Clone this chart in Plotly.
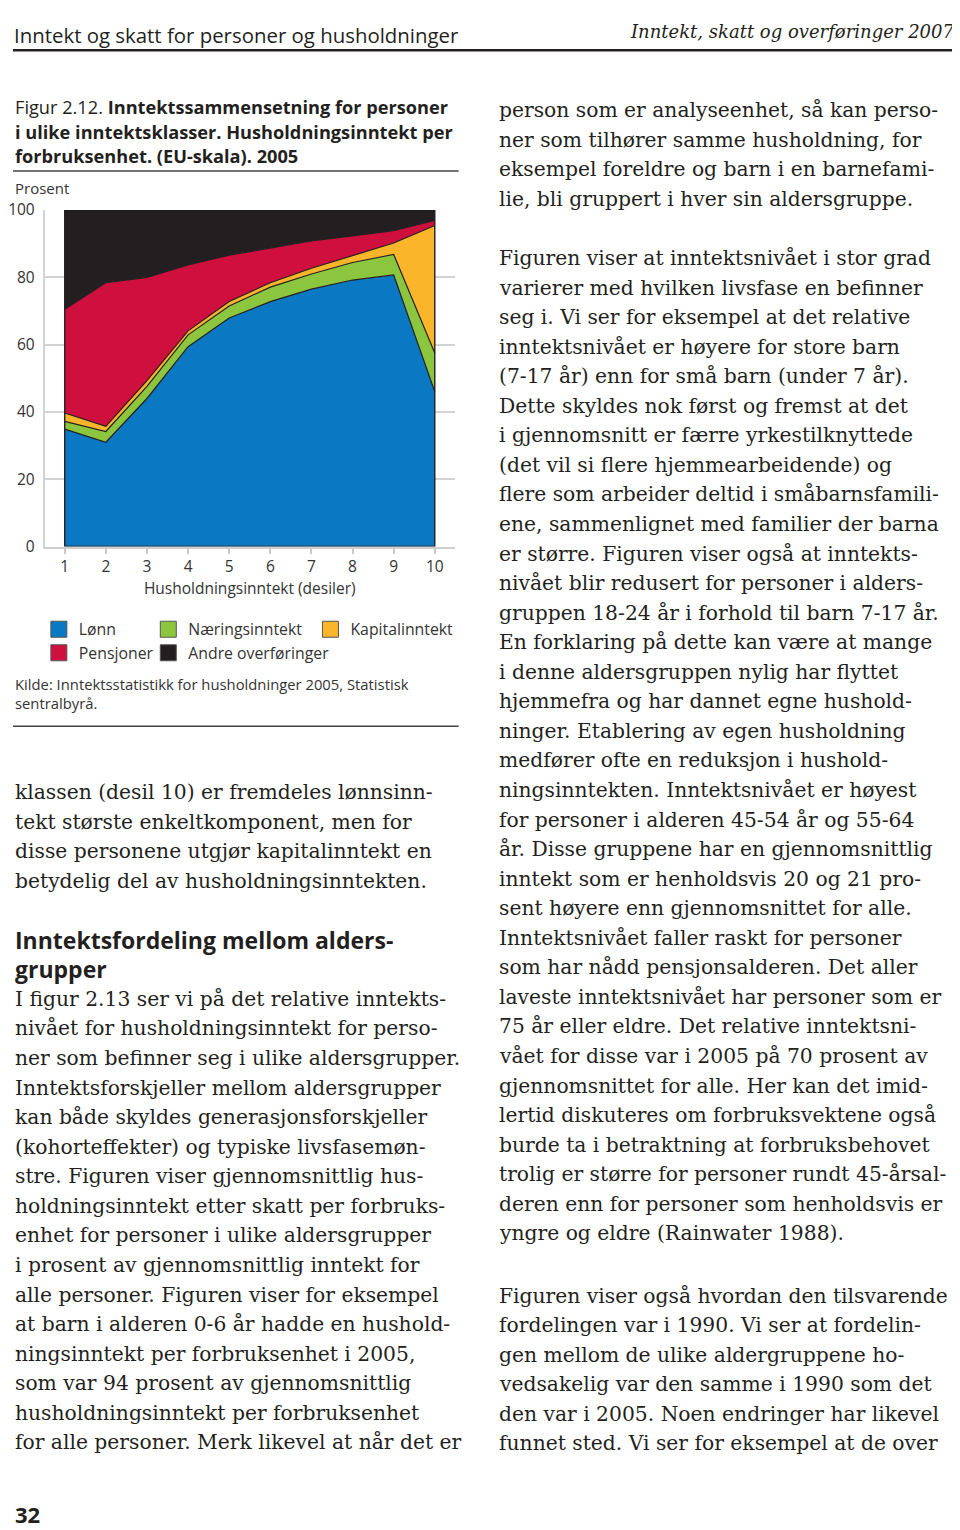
import plotly.graph_objects as go

# ---------------- data ----------------
deciles = [1, 2, 3, 4, 5, 6, 7, 8, 9, 10]
lonn = [34.9, 31.0, 44.0, 59.4, 67.9, 72.8, 76.5, 79.2, 80.7, 46.0]
naering = [2.3, 3.2, 3.6, 3.5, 3.6, 4.3, 4.5, 5.2, 6.1, 11.5]
kapital = [2.5, 1.5, 1.7, 1.2, 1.3, 1.3, 1.7, 2.0, 3.4, 37.9]
pensjoner = [30.8, 42.7, 30.7, 19.6, 13.8, 10.4, 8.1, 5.9, 3.7, 1.5]
andre = [29.5, 21.6, 20.0, 16.3, 13.4, 11.2, 9.2, 7.7, 6.1, 3.1]
series_names = ["Lønn", "Næringsinntekt", "Kapitalinntekt", "Pensjoner", "Andre overføringer"]
y_ticks = [0, 20, 40, 60, 80, 100]

# ---------------- style ----------------
# mapping from target-picture pixels to figure pixels (page offset/scale)
OFFX, OFFY, SY = 8, 19.7, 0.987
W, H = 960, 1530
colors = ["#0a78c2", "#8cc63f", "#fbb52a", "#cf0f3e", "#231f20"]
legend_ids = ["legend", "legend2", "legend3", "legend", "legend2"]
edge = "#231f20"
ink = "#231f20"
grid = "#d3d3d3"
SANS = "Open Sans"
SERIF = "DejaVu Serif"
BODY = 20.3


def px(x):
    return max(x - OFFX, 0) / W


def py(y):
    return 1 - ((y - OFFY) / SY) / H


fig = go.Figure()
series = [lonn, naering, kapital, pensjoner, andre]
for name, vals, col in zip(series_names, series, colors):
    fig.add_trace(go.Scatter(
        x=deciles, y=vals, name=name, stackgroup="one", mode="lines",
        line=dict(color=edge, width=1.2), fillcolor=col, showlegend=False,
        hoverinfo="x+y+name"))

# outline of the whole stacked area (left edge, baseline, right edge)
totals = [sum(v) for v in zip(*series)]
fig.add_trace(go.Scatter(
    x=[deciles[0], deciles[0], deciles[-1], deciles[-1]],
    y=[totals[0], 0, 0, totals[-1]],
    mode="lines", line=dict(color=edge, width=1.4), showlegend=False,
    hoverinfo="skip"))

# legend entries (square swatches)
for name, col, lg in zip(series_names, colors, legend_ids):
    fig.add_trace(go.Scatter(
        x=[None], y=[None], mode="markers", name=name, legend=lg,
        marker=dict(symbol="square", size=16, color=col,
                    line=dict(color="#555555", width=1))))

leg_common = dict(orientation="v", yanchor="top", xanchor="left",
                  traceorder="normal",
                  bgcolor="rgba(0,0,0,0)", borderwidth=0, itemwidth=30,
                  font=dict(family=SANS, size=15.8, color="#333333"))
fig.update_layout(
    legend=dict(x=px(34), y=py(613), **leg_common),
    legend2=dict(x=px(144), y=py(613), **leg_common),
    legend3=dict(x=px(307), y=py(613), **leg_common),
)

fig.update_layout(
    width=W, height=H,
    margin=dict(l=0, r=0, t=0, b=0),
    paper_bgcolor="white", plot_bgcolor="white",
    xaxis=dict(
        domain=[px(40), px(452)], range=[0.516, 10.484],
        tickvals=deciles, ticks="outside", ticklen=5, tickwidth=1.5,
        tickcolor="#c8c8c8", showline=True, linecolor="#cfcfcf", linewidth=2,
        showgrid=False, zeroline=False,
        tickfont=dict(family=SANS, size=15.5, color="#333333"),
        title=dict(text="Husholdningsinntekt (desiler)", standoff=2,
                   font=dict(family=SANS, size=15.5, color="#333333")),
    ),
    yaxis=dict(
        domain=[py(547), py(210)], range=[0, 100],
        tickvals=y_ticks, ticks="", showgrid=True, gridcolor=grid, gridwidth=2,
        showline=True, linecolor=grid, linewidth=2, zeroline=False,
        ticklabelstandoff=5,
        tickfont=dict(family=SANS, size=15.5, color="#333333"),
    ),
    showlegend=True,
)

annotations = []


def add_text(x, y, text, size, family, anchor="left", color=ink, yanchor="middle", pad=1):
    annotations.append(dict(
        x=px(x), y=py(y), xref="paper", yref="paper", text=text,
        showarrow=False, xanchor=anchor, yanchor=yanchor, borderpad=pad,
        font=dict(family=family, size=size, color=color)))


# running header (kept inside the drawable page area)
add_text(0, 19.7, "Inntekt og skatt for personer og husholdninger", 20.4, SANS, yanchor="top", pad=0)
add_text(955, 19.7, "<i>Inntekt, skatt og overføringer 2007</i>", 18, SERIF, anchor="right", yanchor="top", pad=0)

# figure caption
caption = [
    "Figur 2.12. <b>Inntektssammensetning for personer</b>",
    "<b>i ulike inntektsklasser. Husholdningsinntekt per</b>",
    "<b>forbruksenhet. (EU-skala). 2005</b>",
]
for i, t in enumerate(caption):
    add_text(0, 107 + i * 24.5, t, 18.2, SANS)

add_text(4, 188, "Prosent", 15, SANS, color="#333333")
add_text(8, 685, "Kilde: Inntektsstatistikk for husholdninger 2005, Statistisk", 14.8, SANS, color="#333333")
add_text(8, 704, "sentralbyrå.", 14.8, SANS, color="#333333")

# left column body text
left1 = [
    "klassen (desil 10) er fremdeles lønnsinn-",
    "tekt største enkeltkomponent, men for",
    "disse personene utgjør kapitalinntekt en",
    "betydelig del av husholdningsinntekten.",
]
for i, t in enumerate(left1):
    add_text(0, 793 + i * 29.6, t, BODY, SERIF)

add_text(0, 941, "<b>Inntektsfordeling mellom alders-</b>", 23, SANS)
add_text(0, 970, "<b>grupper</b>", 23, SANS)

left2 = [
    "I figur 2.13 ser vi på det relative inntekts-",
    "nivået for husholdningsinntekt for perso-",
    "ner som befinner seg i ulike aldersgrupper.",
    "Inntektsforskjeller mellom aldersgrupper",
    "kan både skyldes generasjonsforskjeller",
    "(kohorteffekter) og typiske livsfasemøn-",
    "stre. Figuren viser gjennomsnittlig hus-",
    "holdningsinntekt etter skatt per forbruks-",
    "enhet for personer i ulike aldersgrupper",
    "i prosent av gjennomsnittlig inntekt for",
    "alle personer. Figuren viser for eksempel",
    "at barn i alderen 0-6 år hadde en hushold-",
    "ningsinntekt per forbruksenhet i 2005,",
    "som var 94 prosent av gjennomsnittlig",
    "husholdningsinntekt per forbruksenhet",
    "for alle personer. Merk likevel at når det er",
]
for i, t in enumerate(left2):
    add_text(0, 1000 + i * 29.6, t, BODY, SERIF)

# right column body text
right1 = [
    "person som er analyseenhet, så kan perso-",
    "ner som tilhører samme husholdning, for",
    "eksempel foreldre og barn i en barnefami-",
    "lie, bli gruppert i hver sin aldersgruppe.",
]
for i, t in enumerate(right1):
    add_text(495, 110 + i * 29.6, t, BODY, SERIF)

right2 = [
    "Figuren viser at inntektsnivået i stor grad",
    "varierer med hvilken livsfase en befinner",
    "seg i. Vi ser for eksempel at det relative",
    "inntektsnivået er høyere for store barn",
    "(7-17 år) enn for små barn (under 7 år).",
    "Dette skyldes nok først og fremst at det",
    "i gjennomsnitt er færre yrkestilknyttede",
    "(det vil si flere hjemmearbeidende) og",
    "flere som arbeider deltid i småbarnsfamili-",
    "ene, sammenlignet med familier der barna",
    "er større. Figuren viser også at inntekts-",
    "nivået blir redusert for personer i alders-",
    "gruppen 18-24 år i forhold til barn 7-17 år.",
    "En forklaring på dette kan være at mange",
    "i denne aldersgruppen nylig har flyttet",
    "hjemmefra og har dannet egne hushold-",
    "ninger. Etablering av egen husholdning",
    "medfører ofte en reduksjon i hushold-",
    "ningsinntekten. Inntektsnivået er høyest",
    "for personer i alderen 45-54 år og 55-64",
    "år. Disse gruppene har en gjennomsnittlig",
    "inntekt som er henholdsvis 20 og 21 pro-",
    "sent høyere enn gjennomsnittet for alle.",
    "Inntektsnivået faller raskt for personer",
    "som har nådd pensjonsalderen. Det aller",
    "laveste inntektsnivået har personer som er",
    "75 år eller eldre. Det relative inntektsni-",
    "vået for disse var i 2005 på 70 prosent av",
    "gjennomsnittet for alle. Her kan det imid-",
    "lertid diskuteres om forbruksvektene også",
    "burde ta i betraktning at forbruksbehovet",
    "trolig er større for personer rundt 45-årsal-",
    "deren enn for personer som henholdsvis er",
    "yngre og eldre (Rainwater 1988).",
]
for i, t in enumerate(right2):
    add_text(495, 258 + i * 29.6, t, BODY, SERIF)

right3 = [
    "Figuren viser også hvordan den tilsvarende",
    "fordelingen var i 1990. Vi ser at fordelin-",
    "gen mellom de ulike aldergruppene ho-",
    "vedsakelig var den samme i 1990 som det",
    "den var i 2005. Noen endringer har likevel",
    "funnet sted. Vi ser for eksempel at de over",
]
for i, t in enumerate(right3):
    add_text(495, 1297 + i * 29.6, t, BODY, SERIF)

add_text(0, 1516, "<b>32</b>", 22, SANS)

fig.update_layout(annotations=annotations)

# rules
rule = dict(type="line", xref="paper", yref="paper")
fig.update_layout(shapes=[
    dict(x0=px(0), x1=px(955), y0=py(50), y1=py(50), line=dict(color=ink, width=2.5), **rule),
    dict(x0=px(0), x1=px(456), y0=py(171), y1=py(171), line=dict(color="#444444", width=1.5), **rule),
    dict(x0=px(0), x1=px(456), y0=py(727), y1=py(727), line=dict(color="#444444", width=1.5), **rule),
])

fig.write_html("out.html")
